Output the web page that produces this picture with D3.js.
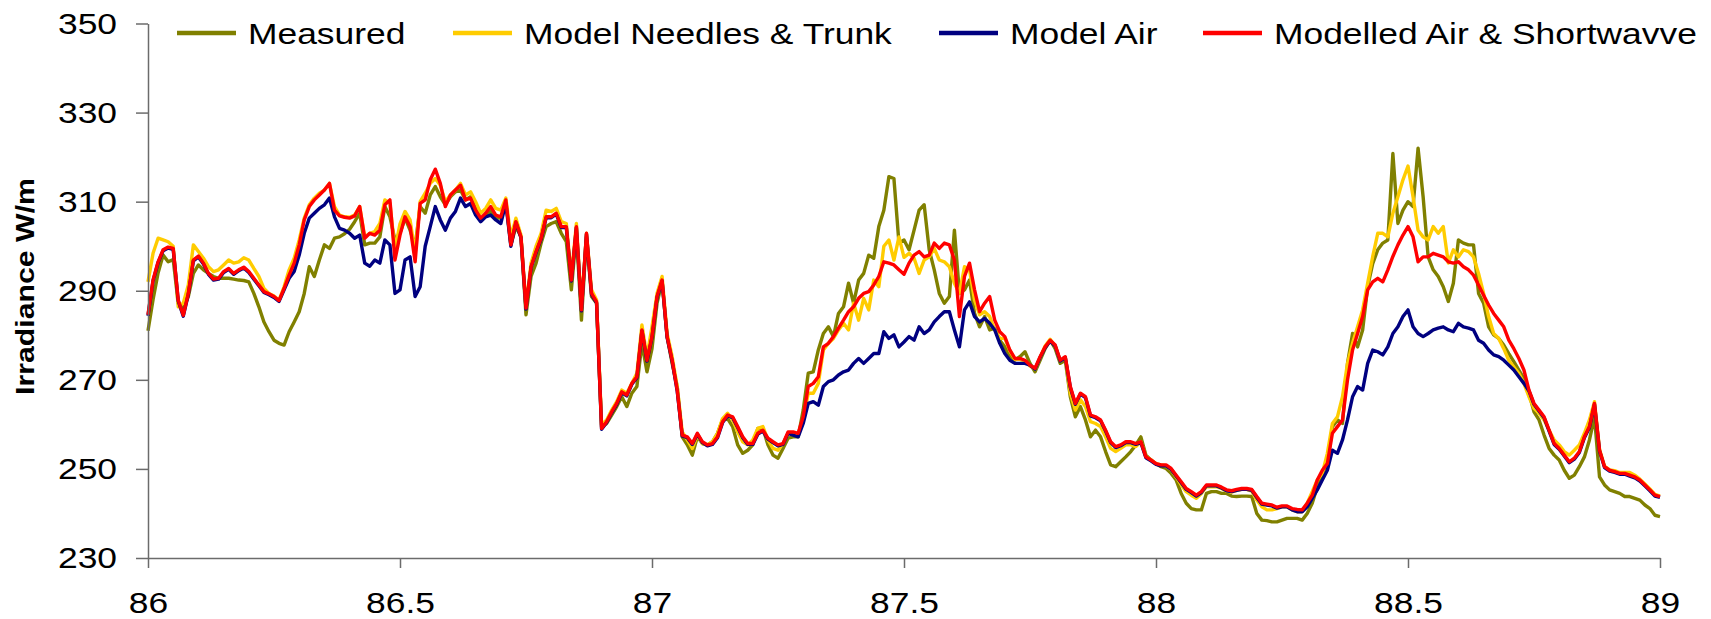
<!DOCTYPE html>
<html>
<head>
<meta charset="utf-8">
<script src="https://cdn.jsdelivr.net/npm/d3@7"></script>
<style>
  body { margin: 0; background: #fff; }
  svg { display: block; }
  text { font-family: "Liberation Sans", Arial, sans-serif; fill: #000; }
</style>
</head>
<body>
<svg id="chart" width="1711" height="619"></svg>
<script>
// Sampling times (day of year), one sample every 0.01 day
const days = d3.range(8600, 8901).map(d => d / 100);

// Irradiance series, W/m2, one value per sample time
const measured = [
  281.0, 288.0, 294.0, 298.0, 296.5, 297.0, 287.2, 286.0, 288.7, 293.9,
  295.8, 294.7, 293.9, 293.2, 292.8, 292.8, 292.8, 292.6, 292.4, 292.3,
  292.0, 289.4, 286.4, 283.0, 280.8, 278.9, 278.2, 277.8, 280.8, 283.0,
  285.3, 289.4, 295.4, 293.2, 296.9, 300.3, 299.5, 301.8, 302.1, 302.8,
  303.8, 305.5, 307.4, 300.3, 300.7, 300.7, 302.1, 308.9, 306.6, 301.4,
  303.0, 306.3, 303.6, 300.0, 308.9, 307.4, 311.5, 313.4, 311.1, 309.3,
  311.1, 312.2, 312.6, 310.4, 311.1, 308.5, 305.9, 307.0, 307.8, 306.3,
  306.3, 310.0, 300.3, 304.4, 302.1, 284.6, 293.2, 296.2, 300.7, 304.4,
  305.1, 305.5, 302.9, 301.0, 290.2, 302.9, 283.4, 302.1, 288.7, 287.2,
  259.5, 260.2, 262.1, 264.0, 266.2, 264.0, 267.0, 268.5, 278.2, 271.8,
  277.0, 287.2, 292.0, 279.7, 273.7, 268.5, 257.2, 255.4, 253.1, 257.2,
  255.7, 255.4, 256.1, 258.0, 261.0, 261.3, 259.5, 255.4, 253.5, 254.2,
  255.4, 259.1, 259.1, 255.4, 253.1, 252.4, 254.6, 256.9, 257.2, 257.2,
  263.2, 271.5, 271.8, 276.7, 280.4, 281.9, 279.7, 284.9, 286.4, 291.7,
  287.2, 292.4, 293.9, 298.0, 297.3, 304.4, 308.1, 315.6, 315.2, 300.7,
  301.4, 299.2, 303.6, 308.1, 309.3, 299.2, 294.7, 289.4, 287.2, 288.7,
  303.6, 289.4, 290.2, 292.4, 284.9, 281.9, 284.2, 281.2, 281.6, 278.9,
  277.4, 275.2, 274.4, 275.2, 276.3, 273.7, 271.8, 274.4, 277.0, 278.9,
  277.0, 273.7, 274.4, 266.2, 261.7, 264.0, 261.0, 257.2, 258.7, 257.2,
  253.9, 250.9, 250.5, 251.6, 252.7, 253.9, 255.4, 257.2, 253.1, 252.0,
  251.2, 250.5, 250.1, 249.0, 247.5, 244.5, 242.3, 241.1, 240.8, 240.8,
  244.5, 244.9, 244.9, 244.5, 244.5, 243.9, 243.8, 243.9, 243.9, 243.8,
  240.0, 238.5, 238.4, 238.1, 238.1, 238.5, 238.9, 238.9, 238.9, 238.5,
  240.0, 242.3, 246.0, 249.0, 251.2, 259.5, 261.0, 260.2, 273.7, 280.4,
  277.4, 281.2, 290.9, 296.1, 299.2, 300.7, 301.4, 320.8, 305.1, 308.1,
  310.0, 308.9, 322.0, 311.1, 297.6, 294.7, 293.2, 290.9, 287.6, 291.7,
  301.4, 300.7, 300.3, 300.3, 289.4, 287.2, 281.9, 280.1, 279.3, 277.8,
  275.9, 274.1, 272.2, 270.3, 267.0, 262.8, 261.0, 257.6, 254.6, 253.1,
  252.0, 249.7, 247.9, 248.6, 250.5, 252.7, 256.5, 261.7, 248.2, 246.4,
  245.3, 244.9, 244.5, 243.8, 243.8, 243.4, 243.0, 241.9, 241.1, 239.6,
  239.3
];

const needlesTrunk = [
  292.0, 298.4, 301.8, 301.4, 301.0, 300.0, 286.4, 287.2, 291.3, 300.3,
  298.8, 297.3, 295.4, 294.3, 294.7, 295.8, 296.9, 296.2, 296.5, 297.4,
  296.9, 295.0, 293.2, 290.5, 289.4, 288.8, 287.9, 290.9, 294.7, 297.3,
  301.4, 306.3, 309.3, 310.8, 311.9, 312.6, 314.1, 308.9, 307.0, 306.6,
  306.5, 307.0, 308.9, 302.1, 302.9, 303.3, 305.1, 310.4, 309.6, 299.2,
  305.0, 307.8, 305.9, 298.4, 310.0, 311.9, 314.1, 315.2, 313.7, 310.0,
  311.5, 312.6, 314.1, 311.5, 312.2, 310.0, 307.4, 308.5, 310.4, 308.5,
  308.1, 310.8, 302.1, 306.3, 302.5, 286.4, 296.2, 300.0, 302.9, 308.1,
  307.8, 308.5, 305.5, 305.1, 293.2, 305.1, 286.4, 302.9, 290.2, 287.9,
  259.9, 261.0, 263.2, 265.1, 267.7, 267.0, 269.2, 271.5, 282.3, 275.2,
  281.9, 289.4, 293.2, 280.4, 275.2, 268.5, 258.3, 256.5, 254.6, 257.6,
  255.7, 255.4, 256.1, 258.0, 261.3, 262.5, 261.0, 258.3, 256.1, 255.4,
  256.5, 259.1, 259.5, 256.5, 254.6, 254.2, 255.7, 258.0, 258.0, 257.6,
  261.0, 267.0, 267.0, 269.2, 276.7, 278.2, 279.3, 281.2, 282.7, 281.2,
  287.2, 283.4, 288.3, 285.7, 292.4, 290.9, 300.0, 301.4, 296.9, 302.1,
  297.5, 298.4, 297.3, 293.9, 296.9, 297.6, 299.5, 296.9, 296.5, 295.4,
  291.7, 289.4, 295.4, 294.7, 287.9, 284.6, 285.3, 284.2, 281.2, 279.3,
  279.3, 276.5, 274.6, 274.6, 274.2, 273.1, 272.4, 275.0, 277.6, 279.1,
  277.6, 274.2, 275.0, 267.0, 263.2, 265.5, 264.0, 260.6, 260.2, 259.5,
  257.2, 254.6, 253.9, 254.6, 255.4, 255.4, 255.0, 256.1, 252.7, 252.0,
  251.2, 250.9, 250.7, 249.8, 248.2, 246.4, 244.9, 244.1, 243.4, 244.5,
  246.0, 246.0, 246.0, 245.6, 245.0, 244.8, 245.2, 245.4, 245.4, 245.0,
  243.0, 241.5, 240.8, 240.8, 241.1, 241.5, 241.5, 240.8, 240.4, 240.4,
  242.3, 244.9, 247.5, 249.0, 253.5, 260.2, 261.7, 266.2, 273.7, 278.2,
  281.9, 285.7, 291.7, 297.7, 302.9, 302.9, 302.1, 307.4, 311.1, 314.9,
  318.0, 311.1, 303.6, 302.1, 301.4, 304.4, 302.9, 304.4, 296.2, 299.2,
  297.6, 299.2, 298.8, 297.6, 293.9, 289.4, 284.2, 280.4, 279.3, 277.0,
  274.4, 272.9, 271.4, 269.2, 266.2, 263.6, 262.5, 261.0, 258.7, 256.5,
  255.4, 253.9, 253.1, 254.2, 255.4, 258.0, 261.0, 265.1, 254.4, 250.6,
  249.8, 249.6, 249.2, 249.2, 249.2, 248.6, 247.7, 246.6, 245.5, 244.3,
  243.9
];

const modelAir = [
  284.4, 292.2, 296.3, 299.0, 299.6, 299.3, 287.7, 284.3, 289.2, 296.7,
  297.6, 296.0, 293.7, 292.4, 292.6, 294.1, 294.8, 293.7, 294.5, 295.1,
  294.1, 292.6, 291.1, 289.6, 289.1, 288.5, 287.6, 290.2, 292.8, 294.3,
  298.0, 302.9, 306.3, 307.4, 308.5, 309.3, 310.8, 306.6, 304.0, 303.6,
  302.9, 301.8, 302.5, 296.2, 295.5, 296.9, 296.2, 301.4, 300.3, 289.4,
  290.2, 296.9, 297.6, 288.7, 290.9, 300.0, 304.4, 308.9, 305.9, 303.6,
  306.3, 307.8, 310.8, 308.9, 309.6, 307.0, 305.5, 306.6, 307.0, 305.9,
  305.1, 309.6, 300.0, 305.3, 301.9, 285.9, 295.2, 298.6, 301.6, 306.4,
  306.4, 307.2, 304.2, 304.2, 292.2, 304.2, 285.5, 302.7, 289.2, 287.3,
  258.9, 260.4, 262.6, 264.5, 267.1, 266.4, 269.0, 270.5, 281.0, 274.2,
  279.5, 288.5, 292.2, 279.5, 274.2, 267.5, 257.4, 257.0, 255.5, 257.8,
  255.9, 255.2, 255.5, 257.0, 260.4, 261.9, 261.5, 259.3, 257.0, 255.5,
  255.5, 257.8, 258.5, 256.7, 255.9, 255.2, 255.5, 258.0, 257.6, 257.2,
  260.2, 264.7, 265.1, 264.3, 268.5, 269.6, 270.0, 271.1, 271.8, 272.2,
  273.7, 274.8, 273.7, 274.8, 275.9, 275.9, 280.8, 279.3, 280.1, 277.4,
  278.5, 279.7, 278.9, 281.9, 280.4, 281.2, 283.0, 284.2, 285.3, 285.3,
  281.2, 277.4, 285.7, 287.5, 284.2, 283.0, 283.8, 282.7, 281.2, 278.2,
  275.9, 274.4, 273.7, 273.7, 273.7, 273.3, 272.4, 275.0, 277.2, 278.7,
  277.6, 274.2, 275.0, 268.3, 264.5, 266.8, 266.0, 261.9, 261.5, 260.8,
  258.5, 255.9, 254.8, 255.2, 255.9, 255.9, 255.5, 255.9, 252.5, 251.8,
  251.0, 250.7, 250.7, 249.9, 248.4, 246.9, 245.4, 244.7, 243.9, 244.7,
  246.2, 246.2, 246.2, 245.7, 245.1, 244.9, 245.2, 245.4, 245.4, 245.2,
  243.6, 242.1, 241.9, 241.7, 241.2, 241.5, 241.5, 240.8, 240.4, 240.4,
  241.5, 243.4, 245.3, 247.5, 249.7, 254.2, 253.5, 256.5, 261.0, 266.2,
  268.5, 267.7, 273.7, 276.7, 276.3, 275.6, 277.4, 280.4, 281.9, 284.2,
  285.7, 281.9, 280.4, 279.7, 280.4, 281.2, 281.6, 281.9, 281.2, 280.8,
  282.7, 281.9, 281.6, 281.2, 278.9, 278.2, 276.7, 275.6, 275.2, 274.4,
  273.3, 272.2, 270.7, 269.2, 267.5, 264.5, 263.0, 261.5, 258.5, 255.5,
  254.4, 252.9, 251.4, 252.2, 253.7, 257.0, 259.3, 264.5, 254.0, 250.3,
  249.5, 249.2, 248.8, 248.8, 248.4, 248.0, 247.3, 246.2, 245.1, 243.9,
  243.6
];

const airShortwave = [
  284.6, 292.4, 296.5, 299.2, 299.8, 299.5, 287.9, 284.5, 289.4, 296.9,
  297.8, 296.2, 293.9, 292.6, 292.8, 294.3, 295.0, 293.9, 294.7, 295.3,
  294.3, 292.8, 291.3, 289.8, 289.3, 288.7, 287.8, 290.5, 293.5, 296.2,
  300.3, 305.9, 308.9, 310.4, 311.5, 312.6, 314.1, 308.1, 306.8, 306.5,
  306.3, 306.8, 308.9, 301.8, 302.9, 302.5, 303.6, 309.3, 310.4, 296.9,
  302.5, 306.6, 304.4, 296.5, 309.6, 310.4, 314.9, 317.3, 314.1, 308.9,
  311.5, 312.6, 313.7, 310.4, 310.8, 308.1, 306.3, 307.4, 308.9, 307.0,
  306.6, 310.4, 300.3, 305.5, 302.1, 286.1, 295.4, 298.8, 301.8, 306.6,
  306.6, 307.4, 304.4, 304.4, 292.4, 304.4, 285.7, 302.9, 289.4, 287.5,
  259.1, 260.6, 262.8, 264.7, 267.3, 266.6, 269.2, 270.7, 281.2, 274.4,
  279.7, 288.7, 292.4, 279.7, 274.4, 267.7, 257.6, 257.2, 255.7, 258.0,
  256.1, 255.4, 255.7, 257.2, 260.6, 262.1, 261.7, 259.5, 257.2, 255.7,
  255.7, 258.0, 258.7, 256.9, 256.1, 255.4, 255.7, 258.3, 258.3, 258.0,
  261.7, 268.5, 269.2, 270.7, 277.4, 278.2, 279.7, 281.6, 283.4, 285.3,
  286.4, 288.3, 289.4, 289.8, 291.3, 293.2, 296.5, 296.2, 295.8, 294.7,
  293.7, 296.2, 298.0, 298.8, 297.6, 298.0, 300.7, 299.5, 300.7, 300.3,
  296.9, 284.2, 293.2, 296.2, 290.2, 285.3, 287.2, 288.7, 283.4, 280.8,
  279.7, 276.7, 274.8, 274.8, 274.4, 273.3, 272.6, 275.2, 277.4, 278.9,
  277.8, 274.4, 275.2, 268.5, 264.7, 267.0, 266.2, 262.1, 261.7, 261.0,
  258.7, 256.1, 255.0, 255.4, 256.1, 256.1, 255.7, 256.1, 252.7, 252.0,
  251.2, 250.9, 250.9, 250.1, 248.6, 247.1, 245.6, 244.9, 244.1, 244.9,
  246.4, 246.4, 246.4, 245.9, 245.3, 245.1, 245.4, 245.6, 245.6, 245.4,
  243.8, 242.3, 242.1, 241.9, 241.4, 241.7, 241.7, 241.1, 240.9, 240.8,
  242.3, 244.1, 247.5, 249.7, 251.2, 258.0, 259.5, 261.0, 270.0, 276.7,
  280.4, 284.2, 290.2, 292.0, 292.8, 292.0, 294.7, 297.7, 300.3, 302.5,
  304.4, 302.1, 296.5, 297.6, 297.6, 298.4, 298.0, 297.6, 296.5, 296.2,
  296.5, 295.4, 294.7, 293.5, 291.3, 289.0, 286.8, 284.9, 283.4, 281.9,
  278.9, 277.0, 274.8, 272.2, 267.7, 264.7, 263.2, 261.7, 258.7, 255.7,
  254.6, 253.1, 251.6, 252.4, 253.9, 257.2, 259.5, 264.7, 254.2, 250.5,
  249.7, 249.4, 249.0, 249.0, 248.6, 248.2, 247.5, 246.4, 245.3, 244.1,
  243.8
];

const seriesNames = ["Measured", "Model Needles & Trunk", "Model Air", "Modelled Air & Shortwavve"];
const seriesColors = ["#808000", "#FFCC00", "#000080", "#FF0000"];
const xTicks = [86, 86.5, 87, 87.5, 88, 88.5, 89];
const yTicks = [230, 250, 270, 290, 310, 330, 350];
const yTitle = "Irradiance W/m";

const series = [measured, needlesTrunk, modelAir, airShortwave];

// ---- layout ----
const svg = d3.select("#chart");
const box = { left: 148, right: 1660, top: 23.5, bottom: 558 };
const STRETCH = 1.18;   // the lettering is drawn slightly wide
const AXIS_GREY = "#6b6b6b";

const x = d3.scaleLinear().domain([86, 89]).range([box.left, box.right]);
const y = d3.scaleLinear().domain([230, 350]).range([box.bottom, box.top]);

// widen a text element horizontally about its own anchor
function widen(sel) {
  sel.each(function () {
    const t = d3.select(this);
    const ax = +t.attr("x") || 0;
    t.attr("transform", `translate(${ax},0) scale(${STRETCH},1) translate(${-ax},0)`);
  });
}

// ---- series lines (drawn in legend order, last on top) ----
const line = d3.line()
  .x((d, i) => x(days[i]))
  .y(d => y(d));

svg.append("g")
  .selectAll("path")
  .data(series)
  .join("path")
  .attr("d", d => line(d))
  .attr("fill", "none")
  .attr("stroke", (d, i) => seriesColors[i])
  .attr("stroke-width", 3.4)
  .attr("stroke-linejoin", "round");

// ---- axes ----
const yAxis = svg.append("g")
  .attr("transform", `translate(${box.left},0)`)
  .call(d3.axisLeft(y).tickValues(yTicks).tickFormat(d3.format("d"))
    .tickSize(12).tickSizeOuter(0).tickPadding(19));

const xAxis = svg.append("g")
  .attr("transform", `translate(0,${box.bottom})`)
  .call(d3.axisBottom(x).tickValues(xTicks).tickFormat(d => String(d))
    .tickSize(10).tickSizeOuter(0).tickPadding(24));

[yAxis, xAxis].forEach(g => {
  g.select(".domain").attr("stroke", AXIS_GREY).attr("stroke-width", 1.5);
  g.selectAll(".tick line").attr("stroke", AXIS_GREY).attr("stroke-width", 1.5);
  g.selectAll(".tick text")
    .attr("fill", "#000")
    .style("font-size", "30px")
    .style("font-family", '"Liberation Sans", Arial, sans-serif')
    .call(widen);
});

// ---- y axis title ----
svg.append("g")
  .attr("transform", `translate(34,${(178 + 395) / 2}) rotate(-90)`)
  .append("text")
  .attr("text-anchor", "middle")
  .attr("font-weight", "bold")
  .attr("font-size", 26)
  .attr("textLength", 217)
  .attr("lengthAdjust", "spacingAndGlyphs")
  .text(yTitle);

// ---- legend ----
const legendLineX = [177, 453, 939, 1203];
const legend = svg.append("g");
seriesNames.forEach((name, i) => {
  const lx = legendLineX[i];
  legend.append("line")
    .attr("x1", lx).attr("x2", lx + 59)
    .attr("y1", 33).attr("y2", 33)
    .attr("stroke", seriesColors[i])
    .attr("stroke-width", 4.5);
  legend.append("text")
    .attr("x", lx + 71)
    .attr("y", 44.5)
    .attr("font-size", 30)
    .text(name)
    .call(widen);
});
</script>
</body>
</html>
